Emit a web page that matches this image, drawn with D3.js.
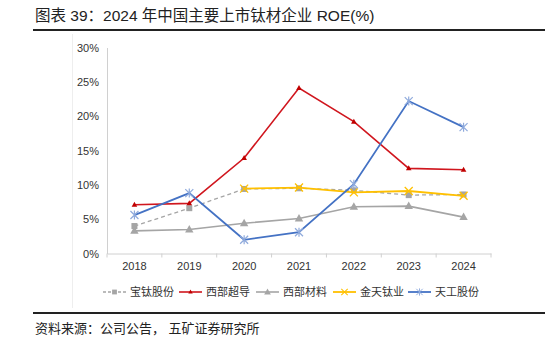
<!DOCTYPE html>
<html>
<head>
<meta charset="utf-8">
<script src="https://cdn.jsdelivr.net/npm/d3@7"></script>
<style>
  body { margin: 0; background: #fff; }
  svg text { font-family: "Liberation Sans", "Noto Sans CJK SC", sans-serif; }
</style>
</head>
<body>
<div class="svg-content"></div>
<script>
const years = ["2018", "2019", "2020", "2021", "2022", "2023", "2024"];
const yTicks = [0, 5, 10, 15, 20, 25, 30];

const baoti = [4.0, 6.6, 9.4, 9.5, 9.2, 8.5, 8.6];
const xibuChaodao = [7.1, 7.3, 13.9, 24.1, 19.2, 12.4, 12.2];
const xibuCailiao = [3.3, 3.5, 4.4, 5.1, 6.8, 6.9, 5.3];
const jintian = [null, null, 9.45, 9.6, 8.9, 9.1, 8.4];
const tiangong = [5.6, 8.8, 2.0, 3.1, 10.1, 22.2, 18.4];

const seriesNames = ["宝钛股份", "西部超导", "西部材料", "金天钛业", "天工股份"];

const series = [
  { name: seriesNames[0], values: baoti, color: "#A5A5A5", dash: "4,3", marker: "square", mcolor: "#A5A5A5", width: 1.3 },
  { name: seriesNames[1], values: xibuChaodao, color: "#D0161E", dash: null, marker: "triangle-small", mcolor: "#C00000", width: 1.6 },
  { name: seriesNames[2], values: xibuCailiao, color: "#A5A5A5", dash: null, marker: "triangle", mcolor: "#A5A5A5", width: 1.6 },
  { name: seriesNames[3], values: jintian, color: "#FFC000", dash: null, marker: "x", mcolor: "#FFC000", width: 1.8 },
  { name: seriesNames[4], values: tiangong, color: "#4472C4", dash: null, marker: "star", mcolor: "#8FAADC", width: 1.8 }
];

const svgWidth = 550;
const svgHeight = 340;

let svg = d3.select(".svg-content")
            .append("svg")
            .attr("width", svgWidth)
            .attr("height", svgHeight);

// title and rules
svg.append("text")
   .attr("x", 35)
   .attr("y", 21)
   .attr("font-size", 15.5)
   .attr("fill", "#222")
   .text("图表 39：2024 年中国主要上市钛材企业 ROE(%)");

svg.append("line")
   .attr("x1", 33).attr("x2", 545)
   .attr("y1", 30).attr("y2", 30)
   .attr("stroke", "#222").attr("stroke-width", 2);

svg.append("line")
   .attr("x1", 33).attr("x2", 545)
   .attr("y1", 313).attr("y2", 313)
   .attr("stroke", "#222").attr("stroke-width", 1.8);

svg.append("text")
   .attr("x", 35)
   .attr("y", 333)
   .attr("font-size", 13)
   .attr("fill", "#222")
   .text("资料来源：公司公告， 五矿证券研究所");

// faint chart frame edge
svg.append("line")
   .attr("x1", 72.5).attr("x2", 72.5)
   .attr("y1", 34).attr("y2", 308)
   .attr("stroke", "#eeeeee");

const xScale = d3.scaleBand()
                 .domain(years)
                 .range([107, 491])
                 .padding(0);

const yScale = d3.scaleLinear()
                 .domain([0, 30])
                 .range([253.5, 47.5]);

const cx = d => xScale(d) + xScale.bandwidth() / 2;

// y axis
const yAxis = d3.axisLeft(yScale)
                .tickValues(yTicks)
                .tickSize(0)
                .tickPadding(8)
                .tickFormat(d => d + "%");

const gy = svg.append("g")
              .attr("id", "y-axis")
              .attr("transform", "translate(107,0)")
              .call(yAxis);
gy.select(".domain").attr("stroke", "#D0D0D0");
gy.selectAll("text").attr("font-size", 11).attr("fill", "#333");

// x axis
const xAxis = d3.axisBottom(xScale)
                .tickSize(0)
                .tickPadding(9);

const gx = svg.append("g")
              .attr("id", "x-axis")
              .attr("transform", "translate(0,253.5)")
              .call(xAxis);
gx.select(".domain").attr("stroke", "#D0D0D0");
gx.selectAll("text").attr("font-size", 11).attr("fill", "#333");

// tick marks between categories
gx.selectAll(".sep")
  .data(years.concat(["end"]))
  .enter()
  .append("line")
  .attr("class", "sep")
  .attr("x1", (d, i) => 107 + i * xScale.bandwidth())
  .attr("x2", (d, i) => 107 + i * xScale.bandwidth())
  .attr("y1", 0)
  .attr("y2", 4)
  .attr("stroke", "#D0D0D0");

function drawMarker(g, type, color) {
  if (type === "square") {
    g.append("rect").attr("x", -3).attr("y", -3).attr("width", 6).attr("height", 6).attr("fill", color);
  } else if (type === "triangle-small") {
    g.append("path").attr("d", "M0,-3L2.8,2L-2.8,2Z").attr("fill", color);
  } else if (type === "triangle") {
    g.append("path").attr("d", "M0,-4.5L4.2,3L-4.2,3Z").attr("fill", color);
  } else if (type === "x") {
    g.append("path").attr("d", "M-4,-4L4,4M-4,4L4,-4").attr("stroke", color).attr("stroke-width", 1.3).attr("fill", "none");
  } else if (type === "star") {
    g.append("path").attr("d", "M-4,-4L4,4M-4,4L4,-4M0,-4.5L0,4.5").attr("stroke", color).attr("stroke-width", 1.2).attr("fill", "none");
  }
}

const line = d3.line()
               .defined(d => d.v !== null)
               .x(d => cx(d.year))
               .y(d => yScale(d.v));

series.forEach(s => {
  const pts = years.map((y, i) => ({ year: y, v: s.values[i] }));
  svg.append("path")
     .datum(pts)
     .attr("fill", "none")
     .attr("stroke", s.color)
     .attr("stroke-width", s.width)
     .attr("stroke-dasharray", s.dash)
     .attr("d", line);

  pts.filter(p => p.v !== null).forEach(p => {
    const g = svg.append("g")
                 .attr("transform", "translate(" + cx(p.year) + "," + yScale(p.v) + ")");
    drawMarker(g, s.marker, s.mcolor);
  });
});

// legend
const legendX = [103, 179, 256, 333, 408];
series.forEach((s, i) => {
  const lg = svg.append("g").attr("transform", "translate(" + legendX[i] + ",292)");
  lg.append("line")
    .attr("x1", 0).attr("x2", 23)
    .attr("y1", 0).attr("y2", 0)
    .attr("stroke", s.color)
    .attr("stroke-width", s.width)
    .attr("stroke-dasharray", s.dash ? "3,2" : null);
  const m = lg.append("g").attr("transform", "translate(11.5,0) scale(0.8)");
  drawMarker(m, s.marker, s.mcolor);
  lg.append("text")
    .attr("x", 27)
    .attr("y", 4)
    .attr("font-size", 11)
    .attr("fill", "#333")
    .text(s.name);
});
</script>
</body>
</html>
